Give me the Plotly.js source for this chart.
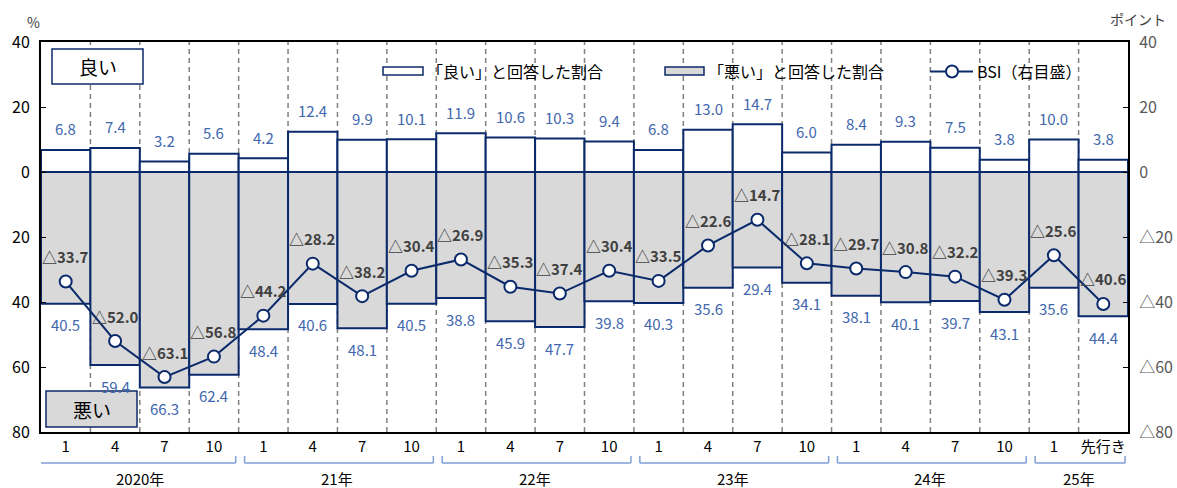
<!DOCTYPE html>
<html><head><meta charset="utf-8">
<script src="https://cdn.plot.ly/plotly-3.0.1.min.js"></script>
<style>html,body{margin:0;padding:0;background:#fff}#chart{width:1177px;height:488px}</style>
</head><body><div id="chart"></div>
<script>
const months = ['1','4','7','10','1','4','7','10','1','4','7','10','1','4','7','10','1','4','7','10','1','先行き'];
const good = [6.8,7.4,3.2,5.6,4.2,12.4,9.9,10.1,11.9,10.6,10.3,9.4,6.8,13.0,14.7,6.0,8.4,9.3,7.5,3.8,10.0,3.8];
const bad = [40.5,59.4,66.3,62.4,48.4,40.6,48.1,40.5,38.8,45.9,47.7,39.8,40.3,35.6,29.4,34.1,38.1,40.1,39.7,43.1,35.6,44.4];
const bsi = [-33.7,-52.0,-63.1,-56.8,-44.2,-28.2,-38.2,-30.4,-26.9,-35.3,-37.4,-30.4,-33.5,-22.6,-14.7,-28.1,-29.7,-30.8,-32.2,-39.3,-25.6,-40.6];
const years = ['2020年','21年','22年','23年','24年','25年'];
const yearSpans = [4,4,4,4,4,2];
const leftTickVals = [40,20,0,-20,-40,-60,-80];
const leftTickText = ['40','20','0','20','40','60','80'];
const rightTickText = ['40','20','0','△20','△40','△60','△80'];

const W = 1177, H = 488, ML = 41, MR = 49, MT = 42, MB = 56;
const PW = W - ML - MR, PH = H - MT - MB;
const px = x => (x - ML) / PW;
const py = y => (H - MB - y) / PH;
const navy = '#0B2A6B';
const valBlue = '#4167AE';
const FONT = '"Noto Sans CJK JP", "Noto Sans", sans-serif';
const idx = months.map((_, i) => i);

const traces = [
  {type:'bar', x: idx, y: good, width: 1, marker:{color:'#ffffff', line:{color:navy, width:2}}, hoverinfo:'skip', showlegend:false},
  {type:'bar', x: idx, y: bad.map(v => -v), width: 1, marker:{color:'#D9D9D9', line:{color:navy, width:2}}, hoverinfo:'skip', showlegend:false},
  {type:'scatter', mode:'lines+markers', x: idx, y: bsi, yaxis:'y2', line:{color:navy, width:2},
   marker:{size:12, color:'#ffffff', line:{color:navy, width:2}}, hoverinfo:'skip', showlegend:false}
];

const shapes = [];
const annotations = [];
const ann = (o) => annotations.push(Object.assign({showarrow:false, xanchor:'center', yanchor:'middle'}, o));

// dashed category separators
for (let k = 0; k < months.length - 1; k++) {
  shapes.push({type:'line', xref:'x', yref:'paper', x0:k+0.5, x1:k+0.5, y0:0, y1:1, layer:'below',
    line:{color:'#808080', width:1.5, dash:'5px,4px'}});
}

// value labels
good.forEach((v, i) => ann({x:i, y:v, xref:'x', yref:'y', text:v.toFixed(1), yshift:21, font:{family:FONT, size:15, color:valBlue}}));
bad.forEach((v, i) => ann({x:i, y:-v, xref:'x', yref:'y', text:v.toFixed(1), yshift:-21, font:{family:FONT, size:15, color:valBlue}}));
bsi.forEach((v, i) => ann({x:i, y:v, xref:'x', yref:'y2', text:'△' + Math.abs(v).toFixed(1), yshift:25,
  font:{family:FONT, size:15, color:'#404040', weight:'bold'}}));

// year brackets
let start = 0;
const bc = '#7F9FD6';
yearSpans.forEach((n, g) => {
  const b0 = start - 0.5, b1 = start + n - 0.5;
  const x0 = g === 0 ? b0 - 0.02 : b0 + 0.12;
  const x1 = b1 - 0.06;
  const yb = py(463), yt = py(456);
  shapes.push({type:'line', xref:'x', yref:'paper', x0:x0, x1:x1, y0:yb, y1:yb, line:{color:bc, width:1.5}});
  shapes.push({type:'line', xref:'x', yref:'paper', x0:x0, x1:x0, y0:yb, y1:yt, line:{color:bc, width:1.5}});
  shapes.push({type:'line', xref:'x', yref:'paper', x0:x1, x1:x1, y0:yb, y1:yt, line:{color:bc, width:1.5}});
  ann({x:(b0 + b1) / 2, y:py(478), xref:'x', yref:'paper', text:years[g], font:{family:FONT, size:15, color:'#000'}});
  start += n;
});

// 良い / 悪い boxes
shapes.push({type:'rect', xref:'paper', yref:'paper', x0:px(52), x1:px(143), y0:py(84), y1:py(49), fillcolor:'#fff', line:{color:navy, width:1.5}});
ann({x:px(97.5), y:py(66.5), xref:'paper', yref:'paper', text:'良い', font:{family:FONT, size:19, color:'#000'}});
shapes.push({type:'rect', xref:'paper', yref:'paper', x0:px(46), x1:px(137), y0:py(427), y1:py(391), fillcolor:'#D9D9D9', line:{color:navy, width:1.5}});
ann({x:px(91.5), y:py(409), xref:'paper', yref:'paper', text:'悪い', font:{family:FONT, size:19, color:'#000'}});

// custom legend
shapes.push({type:'rect', xref:'paper', yref:'paper', x0:px(383), x1:px(423), y0:py(75), y1:py(67), fillcolor:'#fff', line:{color:navy, width:1.5}});
ann({x:px(425), y:py(71), xref:'paper', yref:'paper', xanchor:'left', text:'「良い」と回答した割合', font:{family:FONT, size:16, color:'#000'}});
shapes.push({type:'rect', xref:'paper', yref:'paper', x0:px(665), x1:px(704), y0:py(75), y1:py(67), fillcolor:'#D9D9D9', line:{color:navy, width:1.5}});
ann({x:px(706), y:py(71), xref:'paper', yref:'paper', xanchor:'left', text:'「悪い」と回答した割合', font:{family:FONT, size:16, color:'#000'}});
shapes.push({type:'line', xref:'paper', yref:'paper', x0:px(930), x1:px(973), y0:py(71.5), y1:py(71.5), line:{color:navy, width:2}});
shapes.push({type:'circle', xref:'paper', yref:'paper', x0:px(946), x1:px(958), y0:py(77.5), y1:py(65.5), fillcolor:'#fff', line:{color:navy, width:2}});
ann({x:px(975), y:py(71), xref:'paper', yref:'paper', xanchor:'left', text:'BSI（右目盛）', font:{family:FONT, size:16, color:'#000'}});

// axis unit labels
ann({x:px(33), y:py(22), xref:'paper', yref:'paper', text:'%', font:{family:FONT, size:14, color:'#404040'}});
ann({x:px(1138), y:py(19), xref:'paper', yref:'paper', text:'ポイント', font:{family:FONT, size:14, color:'#404040'}});

const layout = {
  width: W, height: H,
  margin: {l:ML, r:MR, t:MT, b:MB, pad:0},
  paper_bgcolor:'#fff', plot_bgcolor:'#fff',
  barmode:'overlay', bargap:0,
  font:{family:FONT, size:15, color:'#000'},
  xaxis:{range:[-0.5, months.length - 0.5], tickvals: idx, ticktext: months, showgrid:false, zeroline:false,
    showline:true, mirror:true, linecolor:'#000', linewidth:2, ticks:'', tickfont:{family:FONT, size:15, color:'#000'}, fixedrange:true},
  yaxis:{range:[-80, 40], tickvals:leftTickVals, ticktext:leftTickText, showgrid:false, zeroline:false,
    showline:true, linecolor:'#000', linewidth:2, ticks:'inside', ticklen:5, tickcolor:'#000', ticklabelstandoff:6,
    tickfont:{family:FONT, size:16, color:'#000'}, fixedrange:true},
  yaxis2:{range:[-80, 40], overlaying:'y', side:'right', tickvals:leftTickVals, ticktext:rightTickText, showgrid:false, zeroline:false,
    showline:true, linecolor:'#000', linewidth:2, ticks:'inside', ticklen:5, tickcolor:'#000', ticklabelstandoff:6,
    tickfont:{family:FONT, size:16, color:'#595959'}, fixedrange:true},
  shapes: shapes,
  annotations: annotations,
  showlegend:false
};

Plotly.newPlot('chart', traces, layout, {displayModeBar:false, staticPlot:true});
</script>
</body></html>
